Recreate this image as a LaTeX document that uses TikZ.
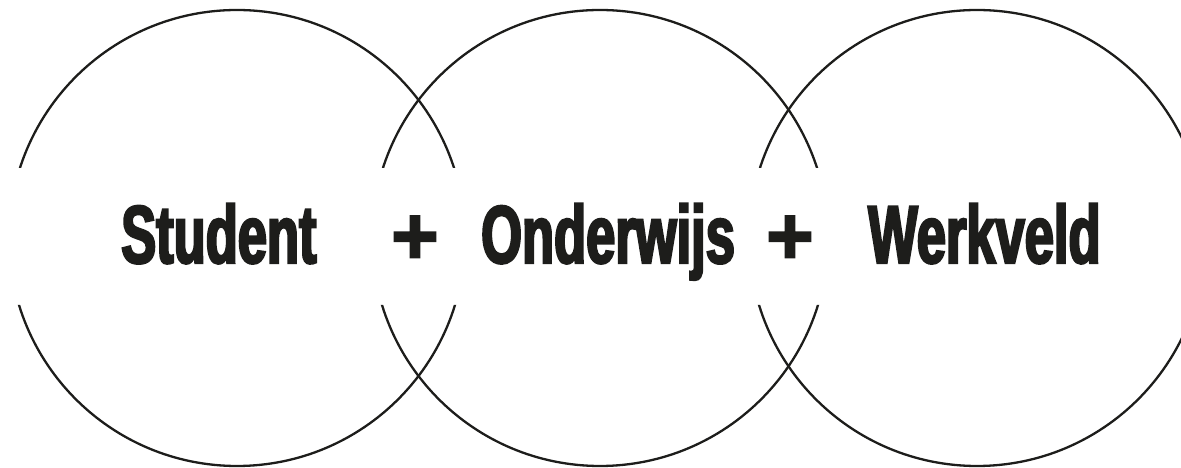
\documentclass[tikz,border=0pt]{standalone}
\usepackage{fontspec}
\setmainfont{Liberation Sans}
\newfontfamily\wordfont[FakeStretch=0.64,FakeBold=2.8]{Liberation Sans Bold}
\newfontfamily\plusfont[FakeBold=2]{Liberation Sans Bold}
\definecolor{ink}{HTML}{1D1D1B}
\begin{document}
\begin{tikzpicture}[x=1pt,y=1pt,
  ring/.style={draw=ink,line width=2.3pt},
  word/.style={inner sep=0pt,anchor=base west,text=ink,font=\wordfont\fontsize{82}{82}\selectfont},
  plus/.style={inner sep=0pt,text=ink,font=\plusfont\fontsize{82}{82}\selectfont}]
\useasboundingbox (0,0) rectangle (1181,468);
\begin{scope}
  \clip (0,300) rectangle (1181,468) (0,0) rectangle (1181,163);
  \draw[ring] (237,230) circle[radius=228];
  \draw[ring] (600,230) circle[radius=228];
  \draw[ring] (977,230) circle[radius=228];
\end{scope}
\node[word] (student) at (121,205) {Student};
\node[plus] (plus1) at (415,228) {+};
\node[word] (onderwijs) at (481,205) {Onderwijs};
\node[plus] (plus2) at (790,228) {+};
\node[word] (werkveld) at (868,205) {Werkveld};
\end{tikzpicture}
\end{document}
